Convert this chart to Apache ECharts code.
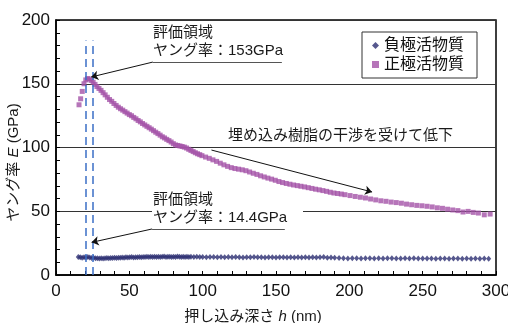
<!DOCTYPE html>
<html><head><meta charset="utf-8">
<script src="https://cdn.jsdelivr.net/npm/echarts@6/dist/echarts.min.js"></script>
<style>html,body{margin:0;padding:0;background:#fff}#c{width:508px;height:323px}</style>
</head><body><div id="c"></div>
<script>
// ---- data ----
const seriesNames = ['負極活物質', '正極活物質'];

const negDepth = [15.2,16.5,17.8,19.1,20.4,21.7,23.0,24.3,25.6,26.9,28.2,29.5,30.8,32.1,33.4,34.7,36.0,37.3,38.6,39.9,41.2,42.5,43.8,45.1,46.4,47.7,49.0,50.3,51.6,52.9,54.2,55.5,56.8,58.1,59.4,60.7,62.0,63.3,64.6,65.9,67.2,68.5,69.8,71.1,72.4,73.7,75.0,76.3,77.6,78.9,80.2,81.5,82.8,84.1,85.4,86.7,88.0,89.3,90.6,92.0,94.0,96.0,98.0,100.0,102.5,105.0,107.5,110.0,112.5,115.0,117.5,120.0,122.5,125.0,127.5,130.0,132.5,135.0,137.5,140.0,142.5,145.0,147.5,150.0,152.5,155.0,157.5,160.0,162.5,165.0,167.5,170.0,172.5,175.0,177.5,180.0,182.5,185.0,187.5,190.0,193.0,196.0,199.0,202.0,205.0,208.0,211.0,214.0,217.0,220.0,223.0,226.0,229.0,232.0,235.0,238.0,241.0,244.0,247.0,250.0,253.0,256.0,259.0,262.0,265.0,268.0,271.0,274.0,277.0,280.0,283.0,286.0,289.0,292.0,295.0];
const negModulus = [14.1,14.0,13.6,13.9,13.7,14.2,13.8,13.3,13.5,13.1,13.2,13.0,13.2,13.0,13.1,13.3,13.2,13.4,13.3,13.5,13.4,13.6,13.5,13.8,13.6,13.9,13.7,13.9,14.1,13.8,14.0,13.9,14.1,14.0,14.2,14.1,14.3,14.1,14.4,14.2,14.3,14.1,14.4,14.2,14.3,14.5,14.2,14.4,14.3,14.1,14.4,14.2,14.5,14.3,14.1,14.4,14.2,14.3,14.1,14.4,14.2,14.3,14.1,14.2,14.0,14.2,14.1,13.9,14.1,14.0,14.2,13.9,14.1,14.0,13.8,14.0,13.9,14.1,13.9,14.0,13.8,14.0,13.9,13.8,14.0,13.9,13.8,14.0,13.8,13.9,13.7,13.9,13.8,13.9,13.7,13.9,14.1,13.6,13.8,13.5,13.3,13.1,13.0,13.2,13.1,13.0,13.2,13.1,13.0,13.1,13.0,13.2,13.1,13.0,12.9,13.1,13.0,13.1,12.9,13.0,12.9,13.0,12.8,13.0,12.9,12.8,13.0,12.9,12.8,12.9,12.8,12.9,12.8,12.9,12.8];

const posDepth = [15.7,16.8,17.9,19.1,20.3,21.5,22.7,24.0,25.3,26.6,27.9,29.3,30.7,32.1,33.5,35.0,36.5,38.0,39.5,41.0,42.5,44.0,45.5,47.0,48.5,50.0,51.5,53.0,54.5,56.0,57.5,59.0,60.5,62.0,63.5,65.0,66.5,68.0,69.5,71.0,72.5,74.0,75.5,77.0,78.5,80.0,81.5,83.0,84.5,86.0,87.5,89.0,90.5,92.0,93.5,95.0,96.5,98.0,99.5,102.0,104.5,107.0,109.5,112.0,114.5,117.0,119.5,122.0,124.5,127.0,129.5,132.0,134.5,137.0,139.5,142.0,144.5,147.0,149.5,152.0,154.5,157.0,159.5,162.0,164.5,167.0,169.5,172.0,174.5,177.0,179.5,182.0,184.5,187.0,189.5,192.0,194.5,197.0,200.5,204.0,207.5,211.0,214.5,218.0,221.5,225.0,228.5,232.0,235.5,239.0,242.5,246.0,249.5,253.0,256.5,260.0,263.5,267.0,270.5,274.0,277.5,281.0,284.5,288.0,292.0,296.0];
const posModulus = [133.5,138.2,144.0,150.0,153.0,154.0,153.8,152.6,151.2,149.5,147.8,146.3,144.8,143.0,141.3,139.4,137.6,136.2,134.5,133.0,131.6,130.4,129.3,128.1,127.0,125.8,124.9,123.6,122.5,121.2,120.1,118.8,117.7,116.6,115.5,114.4,113.2,112.0,110.9,109.7,108.4,107.5,106.4,105.4,104.3,103.0,102.0,101.6,101.2,100.8,100.3,99.6,98.6,97.7,96.8,95.9,95.1,94.4,93.6,92.5,91.5,90.3,89.1,87.7,86.4,85.2,84.2,83.5,83.0,82.5,81.8,80.8,79.8,78.9,77.8,76.9,76.0,75.2,74.3,73.3,72.5,71.8,71.2,70.6,70.1,69.6,69.1,68.5,67.9,67.3,66.8,66.2,65.6,64.9,64.3,63.9,63.5,63.0,62.3,61.6,61.0,60.4,59.6,58.9,58.2,57.8,57.2,56.8,56.3,55.6,55.1,54.6,54.3,53.9,53.4,52.7,52.3,51.6,51.0,50.5,49.4,49.9,49.1,48.6,47.2,47.8];

// evaluation window (nm) and annotation anchors (data units)
const evalWindow = [20, 25];
const evalTop = 184;
const annoTop = { under: [[66, 167], [154, 167]], tip: [24, 155.3] };
const annoBottom = { under: [[65.5, 36.1], [156, 36.1]], tip: [24.3, 25.6] };
const annoMid = { from: [106, 98], to: [215.5, 65.1] };

const xRange = { min: 0, max: 300, interval: 50 };
const yRange = { min: 0, max: 200, interval: 50 };

const FONT = '"Liberation Sans", Arial, "Noto Sans CJK JP", sans-serif';
const NAVY = '#2c2e72';
const PURPLE = '#a452a8';

function zip(a, b) { return a.map((v, i) => [v, b[i]]); }

const chart = echarts.init(document.getElementById('c'), null, { renderer: 'canvas' });

const arrowLine = { color: '#111', width: 1, type: 'solid' };
const underLine = { color: '#555', width: 1.2, type: 'solid' };
const dashLine = { color: '#3b6fc6', width: 1.5, type: [8, 5] };

const markData = [
  [{ coord: [evalWindow[0], 0], lineStyle: dashLine }, { coord: [evalWindow[0], evalTop] }],
  [{ coord: [evalWindow[1], 0], lineStyle: dashLine }, { coord: [evalWindow[1], evalTop] }],
  [{ coord: annoTop.under[1], lineStyle: underLine }, { coord: annoTop.under[0] }],
  [{ coord: annoTop.under[0], lineStyle: arrowLine, symbol: 'none' }, { coord: annoTop.tip, symbol: 'arrow', symbolSize: 7 }],
  [{ coord: annoBottom.under[1], lineStyle: underLine }, { coord: annoBottom.under[0] }],
  [{ coord: annoBottom.under[0], lineStyle: arrowLine, symbol: 'none' }, { coord: annoBottom.tip, symbol: 'arrow', symbolSize: 7 }],
  [{ coord: annoMid.from, lineStyle: arrowLine, symbol: 'none' }, { coord: annoMid.to, symbol: 'arrow', symbolSize: 7 }]
];

const textStyle = (t, x, y) => ({
  type: 'text', x: x, y: y, z: 20, silent: true,
  style: { text: t, font: '15px ' + FONT, fill: '#1a1a1a', verticalAlign: 'middle', align: 'left' }
});

chart.setOption({
  animation: false,
  backgroundColor: '#fff',
  textStyle: { fontFamily: FONT },
  grid: { left: 56, right: 12, top: 20, bottom: 48, outerBoundsMode: 'none', containLabel: false, show: true, borderColor: '#000', borderWidth: 1.5, backgroundColor: 'transparent' },
  legend: {
    orient: 'vertical', left: 362, top: 32,
    itemWidth: 7, itemHeight: 7, itemGap: 2,
    padding: [5, 13, 5, 10],
    borderColor: '#333', borderWidth: 1, backgroundColor: '#fff',
    textStyle: { fontSize: 16, fontFamily: FONT, color: '#111', lineHeight: 17 },
    data: [{ name: seriesNames[0], icon: 'diamond' }, { name: seriesNames[1], icon: 'rect' }]
  },
  xAxis: {
    type: 'value', min: xRange.min, max: xRange.max, interval: xRange.interval,
    name: '{a|押し込み深さ }{b|h}{a| (nm)}',
    nameLocation: 'middle', nameGap: 34, nameMoveOverlap: false,
    nameTextStyle: { padding: [0, 46, 0, 0], rich: { a: { fontSize: 15, fontFamily: FONT, color: '#1a1a1a' }, b: { fontSize: 15, fontStyle: 'italic', fontFamily: FONT, color: '#1a1a1a' } } },
    axisLine: { lineStyle: { color: '#000', width: 1.5 } },
    axisTick: { inside: true, length: 4, lineStyle: { color: '#000' } },
    minorTick: { show: true, splitNumber: 5, length: 4, lineStyle: { color: '#000' } },
    axisLabel: { fontSize: 17, color: '#111', margin: 8, fontFamily: FONT },
    splitLine: { show: false }
  },
  yAxis: {
    type: 'value', min: yRange.min, max: yRange.max, interval: yRange.interval,
    name: '{a|ヤング率 }{b|E}{a| (GPa)}',
    nameLocation: 'middle', nameGap: 35, nameRotate: 90, nameMoveOverlap: false,
    nameTextStyle: { padding: [0, 30, 0, 0], rich: { a: { fontSize: 15, fontFamily: FONT, color: '#1a1a1a' }, b: { fontSize: 15, fontStyle: 'italic', fontFamily: FONT, color: '#1a1a1a' } } },
    axisLine: { lineStyle: { color: '#000', width: 1.5 } },
    axisTick: { inside: true, length: 4, lineStyle: { color: '#000' } },
    minorTick: { show: true, splitNumber: 5, length: 4, lineStyle: { color: '#000' } },
    axisLabel: { fontSize: 17, color: '#111', margin: 6, fontFamily: FONT },
    splitLine: { show: true, lineStyle: { color: '#333', width: 1 } }
  },
  series: [
    {
      name: seriesNames[0], type: 'scatter', symbol: 'diamond', symbolSize: [5, 6],
      itemStyle: { color: NAVY }, data: zip(negDepth, negModulus), z: 3
    },
    {
      name: seriesNames[1], type: 'scatter', symbol: 'rect', symbolSize: 5,
      itemStyle: { color: PURPLE }, data: zip(posDepth, posModulus), z: 3,
      markLine: { silent: true, animation: false, symbol: 'none', label: { show: false }, emphasis: { disabled: true }, data: markData }
    }
  ],
  graphic: [
    { type: 'rect', z: 10, silent: true, shape: { x: 152, y: 194, width: 151, height: 33 }, style: { fill: '#fff' } },
    textStyle('評価領域', 153, 33),
    textStyle('ヤング率：153GPa', 153, 51),
    textStyle('評価領域', 153, 200),
    textStyle('ヤング率：14.4GPa', 153, 218),
    textStyle('埋め込み樹脂の干渉を受けて低下', 228, 136)
  ]
});
</script></body></html>
